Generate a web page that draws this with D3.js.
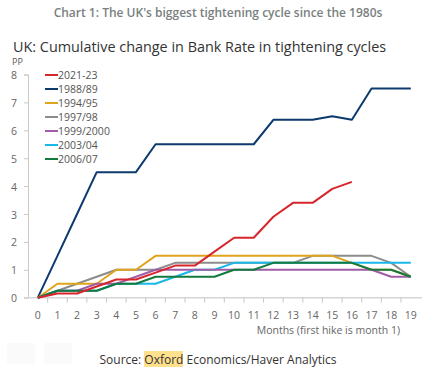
<!DOCTYPE html>
<html>
<head>
<meta charset="utf-8">
<script src="https://cdn.jsdelivr.net/npm/d3@7"></script>
<style>
  body { margin: 0; background: #fff; }
  svg { display: block; font-family: "Open Sans", "Noto Sans", sans-serif; }
</style>
</head>
<body>
<div id="chart"></div>
<script>
// months since first hike
var months = d3.range(0, 20);
var yTicks = [0, 1, 2, 3, 4, 5, 6, 7, 8];

// cumulative change in Bank Rate, pp
var s2021 = [0, 0.15, 0.15, 0.4, 0.65, 0.65, 0.9, 1.15, 1.15, 1.65, 2.15, 2.15, 2.9, 3.4, 3.4, 3.9, 4.15];
var s1988 = [0, 1.5, 3, 4.5, 4.5, 4.5, 5.5, 5.5, 5.5, 5.5, 5.5, 5.5, 6.375, 6.375, 6.375, 6.5, 6.375, 7.5, 7.5, 7.5];
var s1994 = [0, 0.5, 0.5, 0.5, 1, 1, 1.5, 1.5, 1.5, 1.5, 1.5, 1.5, 1.5, 1.5, 1.5, 1.5, 1.25, 1, 1, 0.75];
var s1997 = [0, 0.25, 0.5, 0.75, 1, 1, 1, 1.25, 1.25, 1.25, 1.25, 1.25, 1.25, 1.25, 1.5, 1.5, 1.5, 1.5, 1.25, 0.75];
var s1999 = [0, 0.25, 0.25, 0.5, 0.5, 0.75, 1, 1, 1, 1, 1, 1, 1, 1, 1, 1, 1, 1, 0.75, 0.75];
var s2003 = [0, 0.25, 0.25, 0.25, 0.5, 0.5, 0.5, 0.75, 1, 1, 1.25, 1.25, 1.25, 1.25, 1.25, 1.25, 1.25, 1.25, 1.25, 1.25];
var s2006 = [0, 0.25, 0.25, 0.25, 0.5, 0.5, 0.75, 0.75, 0.75, 0.75, 1, 1, 1.25, 1.25, 1.25, 1.25, 1.25, 1, 1, 0.75];

var seriesNames = ["2021-23", "1988/89", "1994/95", "1997/98", "1999/2000", "2003/04", "2006/07"];
var seriesValues = [s2021, s1988, s1994, s1997, s1999, s2003, s2006];
var seriesColors = ["#d7262b", "#0d3a6e", "#e0a41c", "#8c8c8c", "#a05ca8", "#1ab8e8", "#127a3f"];
// draw order (back to front)
var drawOrder = [1, 3, 2, 5, 4, 6, 0];

var width = 422, height = 367;
var margin = { left: 28, right: 10, top: 74.5, bottom: 69.5 };

var svg = d3.select("#chart").append("svg")
    .attr("width", width)
    .attr("height", height);

var x = d3.scaleBand()
    .domain(months)
    .range([margin.left, margin.left + 20 * 19.63]);

var y = d3.scaleLinear()
    .domain([0, 8])
    .range([height - margin.bottom + 0.2, margin.top]);

function cx(d) { return x(d) + x.bandwidth() / 2; }

// titles
svg.append("text")
    .attr("x", 218).attr("y", 17)
    .attr("text-anchor", "middle")
    .style("font-size", "12px")
    .style("font-weight", 600)
    .style("fill", "#7a7f80")
    .text("Chart 1: The UK's biggest tightening cycle since the 1980s");

svg.append("text")
    .attr("x", 13).attr("y", 52)
    .style("font-size", "14.4px")
    .style("fill", "#333")
    .text("UK: Cumulative change in Bank Rate in tightening cycles");

svg.append("text")
    .attr("x", 12).attr("y", 65)
    .style("font-size", "9px")
    .style("fill", "#555")
    .text("PP");

// y axis
var yAxis = d3.axisLeft(y).tickValues(yTicks).tickSize(4).tickPadding(7);
var gy = svg.append("g")
    .attr("transform", "translate(" + margin.left + ",0)")
    .call(yAxis);
gy.select(".domain").attr("stroke", "#c8c8c8");
gy.selectAll(".tick line").attr("stroke", "#c8c8c8");
gy.selectAll(".tick text")
    .attr("dy", "0.38em")
    .style("font-size", "10.5px")
    .style("font-family", "Open Sans, sans-serif")
    .style("fill", "#666");

// x axis (ticks between categories)
var gx = svg.append("g")
    .attr("transform", "translate(0," + y(0) + ")");
gx.append("line")
    .attr("x1", margin.left - 4).attr("x2", x.range()[1] + 4)
    .attr("stroke", "#d6d6d6").attr("stroke-width", 1.5);
gx.selectAll("line.tk")
    .data(months.slice(1))
    .enter().append("line")
    .attr("class", "tk")
    .attr("x1", function (d) { return x(d); })
    .attr("x2", function (d) { return x(d); })
    .attr("y1", 0).attr("y2", 5)
    .attr("stroke", "#c8c8c8");
gx.selectAll("text")
    .data(months)
    .enter().append("text")
    .attr("x", cx)
    .attr("y", 21)
    .attr("text-anchor", "middle")
    .style("font-size", "10.5px")
    .style("fill", "#666")
    .text(function (d) { return d; });

svg.append("text")
    .attr("x", 400).attr("y", 334)
    .attr("text-anchor", "end")
    .style("font-size", "10.5px")
    .style("fill", "#666")
    .text("Months (first hike is month 1)");

// lines
var line = d3.line()
    .x(function (d, i) { return cx(months[i]); })
    .y(function (d) { return y(d); });

svg.append("g").selectAll("path")
    .data(drawOrder)
    .enter().append("path")
    .attr("d", function (k) { return line(seriesValues[k]); })
    .attr("fill", "none")
    .attr("stroke", function (k) { return seriesColors[k]; })
    .attr("stroke-width", 2)
    .attr("stroke-linejoin", "round");

// legend
var lg = svg.append("g").attr("transform", "translate(45,75)");
var item = lg.selectAll("g")
    .data(seriesNames)
    .enter().append("g")
    .attr("transform", function (d, i) { return "translate(0," + i * 14 + ")"; });
item.append("line")
    .attr("x1", 0).attr("x2", 13)
    .attr("stroke", function (d, i) { return seriesColors[i]; })
    .attr("stroke-width", 2);
item.append("text")
    .attr("x", 13).attr("y", 4)
    .style("font-size", "10.5px")
    .style("fill", "#555")
    .text(function (d) { return d; });

// faint buttons
svg.selectAll("rect.btn")
    .data([7, 44])
    .enter().append("rect")
    .attr("class", "btn")
    .attr("x", function (d) { return d; })
    .attr("y", 343).attr("width", 28).attr("height", 21)
    .attr("fill", "#fafafa");

// source
svg.append("rect")
    .attr("x", 144).attr("y", 351)
    .attr("width", 39).attr("height", 16)
    .attr("fill", "#ffe08c");
svg.append("text")
    .attr("x", 218).attr("y", 364)
    .attr("text-anchor", "middle")
    .style("font-size", "12px")
    .style("fill", "#333")
    .text("Source: Oxford Economics/Haver Analytics");
</script>
</body>
</html>
